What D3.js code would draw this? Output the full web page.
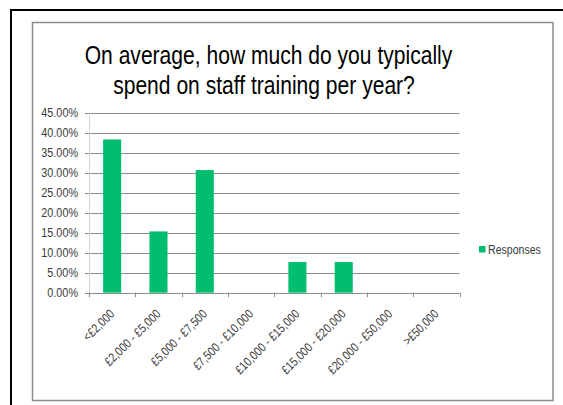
<!DOCTYPE html>
<html>
<head>
<meta charset="utf-8">
<script src="https://cdn.jsdelivr.net/npm/d3@7"></script>
<style>
  html, body { margin: 0; padding: 0; background: #fff; }
  svg { display: block; }
</style>
</head>
<body>
<div id="chart"></div>
<script>
// data
var categories = ["<£2,000", "£2,000 - £5,000", "£5,000 - £7,500", "£7,500 - £10,000",
                  "£10,000 - £15,000", "£15,000 - £20,000", "£20,000 - £50,000", ">£50,000"];
var responses = [0.3846, 0.1538, 0.3077, 0, 0.0769, 0.0769, 0, 0];
var yTicks = [0, 0.05, 0.10, 0.15, 0.20, 0.25, 0.30, 0.35, 0.40, 0.45];
var titleLines = ["On average, how much do you typically", "spend on staff training per year?"];
var seriesName = "Responses";

var W = 563, H = 405;
var font = "'Liberation Sans', Arial, sans-serif";

var svg = d3.select("#chart").append("svg").attr("width", W).attr("height", H);

// squeeze glyphs horizontally so Arial looks like the narrow fonts of the original
function squeeze(sel, k){
    sel.each(function(){
        var n = this.getComputedTextLength();
        d3.select(this).attr("textLength", n * k).attr("lengthAdjust", "spacingAndGlyphs");
    });
}

// frames
svg.append("rect").attr("x", 11).attr("y", 10).attr("width", W + 10).attr("height", H + 10)
   .attr("fill", "none").attr("stroke", "#000").attr("stroke-width", 2);
svg.append("rect").attr("x", 32.5).attr("y", 22.5).attr("width", 520.5).attr("height", 378)
   .attr("fill", "#fff").attr("stroke", "#8c8c8c").attr("stroke-width", 1.5);

// title
var tt = svg.append("g").selectAll("text").data(titleLines).enter().append("text")
   .attr("x", function(d, i){ return i == 0 ? 268.5 : 264; })
   .attr("y", function(d, i){ return 64 + i * 30; })
   .attr("text-anchor", "middle")
   .attr("font-family", font).attr("font-size", 26).attr("fill", "#000")
   .text(function(d){ return d; });
squeeze(tt, 0.81);

var x0 = 89, x1 = 459.5, yBot = 292.7, yTop = 113.4;
var x = d3.scaleBand().domain(categories).range([x0, x1]).paddingInner(0.61).paddingOuter(0.305);
var y = d3.scaleLinear().domain([0, 0.45]).range([yBot, yTop]);

var fmt = function(v){ return (v * 100).toFixed(2) + "%"; };

// gridlines
svg.append("g").selectAll("line").data(yTicks).enter().append("line")
   .attr("x1", x0 - 4).attr("x2", x1)
   .attr("y1", function(d){ return Math.round(y(d)) + 0.5; })
   .attr("y2", function(d){ return Math.round(y(d)) + 0.5; })
   .attr("stroke", "#8c8c8c").attr("stroke-width", 1);

// y axis line
svg.append("line").attr("x1", x0 + 0.5).attr("x2", x0 + 0.5).attr("y1", yTop).attr("y2", yBot)
   .attr("stroke", "#d4d4d4").attr("stroke-width", 1);

// y labels
var yl = svg.append("g").selectAll("text").data(yTicks).enter().append("text")
   .attr("x", 78).attr("y", function(d){ return y(d) + 4; })
   .attr("text-anchor", "end")
   .attr("font-family", font).attr("font-size", 12).attr("fill", "#3a3a3a")
   .text(fmt);
squeeze(yl, 0.9);

// x ticks
var step = (x1 - x0) / categories.length;
svg.append("g").selectAll("line").data(d3.range(categories.length + 1)).enter().append("line")
   .attr("x1", function(i){ return Math.round(x0 + i * step) + 0.5; })
   .attr("x2", function(i){ return Math.round(x0 + i * step) + 0.5; })
   .attr("y1", yBot).attr("y2", yBot + 4.5)
   .attr("stroke", "#8c8c8c");

// bars
svg.append("g").selectAll("rect").data(responses).enter().append("rect")
   .attr("x", function(d, i){ return x(categories[i]); })
   .attr("width", x.bandwidth())
   .attr("y", function(d){ return y(d); })
   .attr("height", function(d){ return yBot - y(d); })
   .attr("fill", "#00be6e");

// x labels
var xl = svg.append("g").selectAll("text").data(categories).enter().append("text")
   .attr("transform", function(d){
       var cx = x(d) + x.bandwidth() / 2 + 3;
       return "translate(" + cx + "," + (yBot + 22) + ") rotate(-45)";
   })
   .attr("text-anchor", "end")
   .attr("font-family", font).attr("font-size", 12.5).attr("fill", "#3a3a3a")
   .text(function(d){ return d; });
squeeze(xl, 0.84);

// legend
var lg = svg.append("g").attr("transform", "translate(479,246)");
lg.append("rect").attr("width", 6.5).attr("height", 6.5).attr("fill", "#00be6e");
var lt = lg.append("text").attr("x", 9).attr("y", 7.5).attr("font-family", font).attr("font-size", 12)
  .attr("fill", "#3a3a3a").text(seriesName);
squeeze(lt, 0.88);
</script>
</body>
</html>
